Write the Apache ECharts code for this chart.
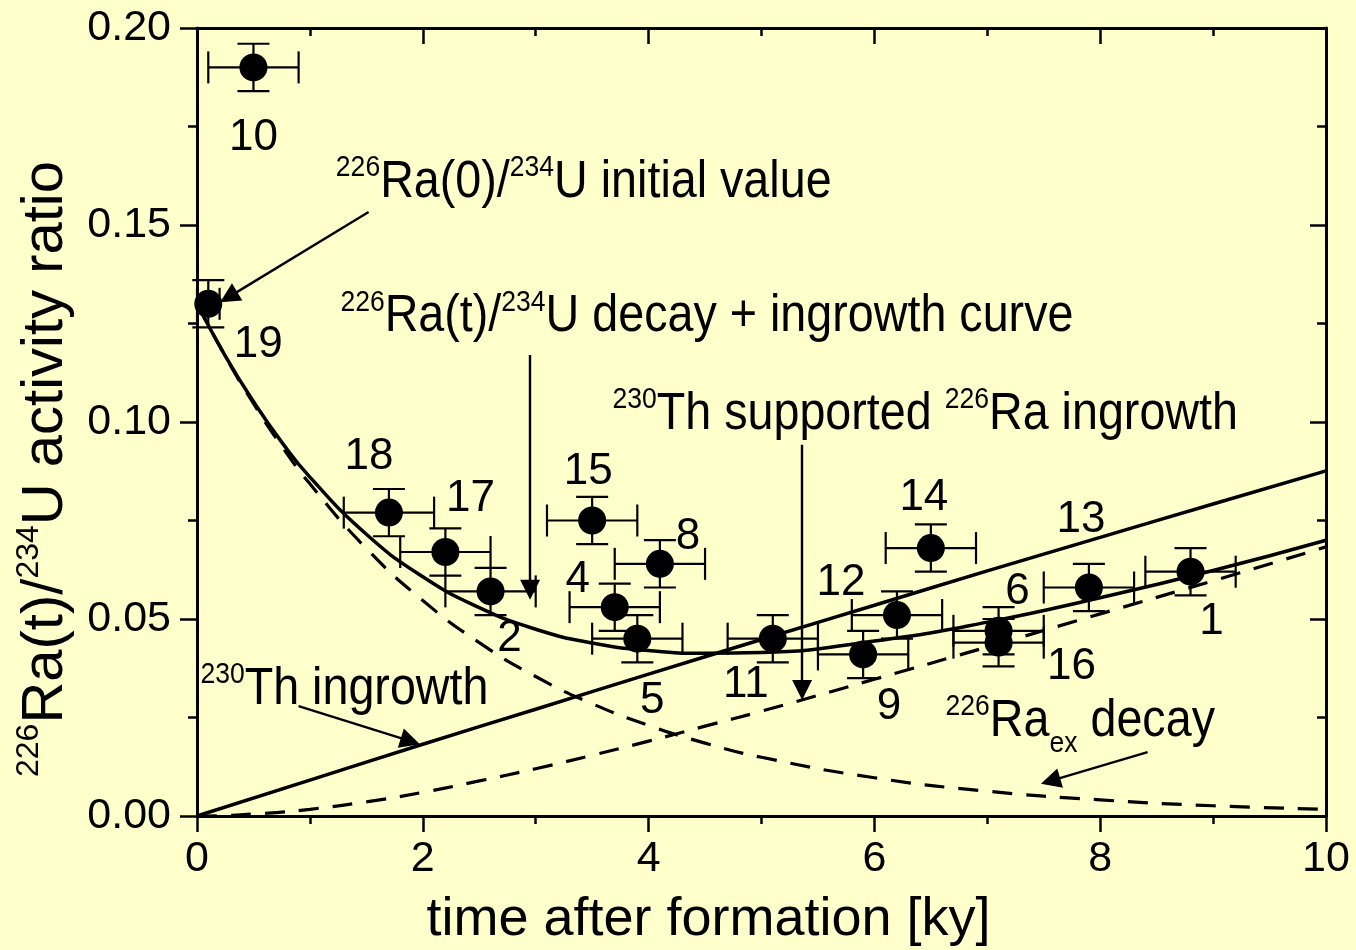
<!DOCTYPE html>
<html>
<head>
<meta charset="utf-8">
<script src="https://cdn.jsdelivr.net/npm/echarts@6/dist/echarts.min.js"></script>
<style>
  html, body { margin: 0; padding: 0; background: #ffffcc; }
  #chart { width: 1356px; height: 950px; }
</style>
</head>
<body>
<div id="chart"></div>
<script>
// ---- measured samples ----
const sampleIds   = ['10', '19', '18', '17', '2', '15', '8', '4', '5', '11', '9', '12', '14', '6', '16', '13', '1'];
const sampleAge   = [0.5, 0.1, 1.7, 2.2, 2.6, 3.5, 4.1, 3.7, 3.9, 5.1, 5.9, 6.2, 6.5, 7.1, 7.1, 7.9, 8.8];
const sampleRatio = [0.190, 0.130, 0.077, 0.067, 0.057, 0.075, 0.064, 0.053, 0.045, 0.045, 0.041, 0.051, 0.068, 0.047, 0.044, 0.058, 0.062];
const ageErr      = [0.4, 0.1, 0.4, 0.4, 0.4, 0.4, 0.4, 0.4, 0.4, 0.4, 0.4, 0.4, 0.4, 0.4, 0.4, 0.4, 0.4];
const ratioErr    = [0.006, 0.006, 0.006, 0.006, 0.006, 0.006, 0.006, 0.006, 0.006, 0.006, 0.006, 0.006, 0.006, 0.006, 0.006, 0.006, 0.006];

// ---- model curves ----
const curveTime    = [0, 0.25, 0.5, 0.75, 1, 1.5, 2, 2.5, 3, 3.5, 4, 4.5, 5, 6, 7, 8, 9, 10];
const totalRatio   = [0.130, 0.1168, 0.1052, 0.0949, 0.0860, 0.0715, 0.0607, 0.0529, 0.0474, 0.0439, 0.0420, 0.0413, 0.0415, 0.0444, 0.0492, 0.0554, 0.0623, 0.0700];
const excessDecay  = [0.130, 0.1167, 0.1047, 0.0939, 0.0843, 0.0679, 0.0547, 0.0440, 0.0354, 0.0285, 0.0230, 0.0185, 0.0149, 0.0097, 0.0063, 0.0041, 0.0026, 0.0017];
const supportedRa  = [0, 0.0001, 0.0005, 0.0010, 0.0017, 0.0036, 0.0060, 0.0089, 0.0120, 0.0154, 0.0190, 0.0228, 0.0266, 0.0347, 0.0429, 0.0513, 0.0597, 0.0683];
const thTime       = [0, 1, 2, 3, 4, 5, 6, 7, 8, 9, 10];
const thIngrowth   = [0, 0.0091, 0.0182, 0.0271, 0.0360, 0.0448, 0.0535, 0.0622, 0.0707, 0.0792, 0.0876];

// ---- axis ticks ----
const xTicks = [0, 2, 4, 6, 8, 10];
const yTicks = ['0.00', '0.05', '0.10', '0.15', '0.20'];

// label placement next to each point (px)
const labelShift = [[0, 70], [50, 41], [-20, -56], [25, -53], [19, 47], [-4, -49], [28, -27], [-37, -27], [15, 62],
                    [-27, 46], [26, 52], [-56, -32], [-7, -50], [19, -39], [73, 24], [-8, -68], [21, 50]];

// annotation texts, anchored in data coordinates (left edge, middle)
const notes = [
  { at: [1.23, 0.1607], text: '{sup|226}Ra(0)/{sup|234}U initial value' },
  { at: [1.27, 0.1266], text: '{sup|226}Ra(t)/{sup|234}U decay + ingrowth curve' },
  { at: [3.68, 0.1018], text: '{sup|230}Th supported {sup|226}Ra ingrowth' },
  { at: [0.03, 0.0320], text: '{sup|230}Th ingrowth' },
  { at: [6.63, 0.0239], text: '{sup|226}Ra{sub|ex} decay' }
];
// annotation arrows: [from, to] in data coordinates
const arrows = [
  [[1.52, 0.1533], [0.28, 0.1317]],
  [[2.95, 0.1170], [2.95, 0.0574]],
  [[5.36, 0.0942], [5.36, 0.0320]],
  [[0.90, 0.0279], [1.89, 0.0190]],
  [[8.42, 0.0162], [7.56, 0.0089]]
];

const FONT = "'Liberation Sans', Arial, Helvetica, sans-serif";
const INK = '#000000';

const zip = (xs, ys) => xs.map((x, i) => [x, ys[i]]);

const chart = echarts.init(document.getElementById('chart'), null, { renderer: 'canvas' });

const axisCommon = {
  axisLine: { show: true, onZero: false, lineStyle: { color: INK, width: 3 } },
  splitLine: { show: false },
  minorSplitLine: { show: false }
};

const option = {
  backgroundColor: '#ffffcc',
  animation: false,
  textStyle: { fontFamily: FONT, color: INK },
  grid: { left: 197, right: 30, top: 28, bottom: 134, containLabel: false, outerBoundsMode: 'none' },
  xAxis: [
    Object.assign({}, axisCommon, {
      type: 'value', position: 'bottom', min: 0, max: 10, interval: 2,
      axisTick: { show: true, inside: false, length: 16, lineStyle: { color: INK, width: 2.5 } },
      minorTick: { show: true, splitNumber: 2, length: 8, lineStyle: { color: INK, width: 2.5 } },
      axisLabel: { show: true, fontSize: 43, fontFamily: FONT, color: INK, margin: 22,
                   formatter: v => String(xTicks[xTicks.indexOf(v)]) },
      name: 'time after formation [ky]',
      nameLocation: 'middle', nameGap: 77,
      nameTextStyle: { fontSize: 54, fontFamily: FONT, color: INK, padding: [0, 106, 0, 0] }
    }),
    Object.assign({}, axisCommon, {
      type: 'value', position: 'top', min: 0, max: 10, interval: 2,
      axisTick: { show: true, inside: true, length: 16, lineStyle: { color: INK, width: 2.5 } },
      minorTick: { show: true, splitNumber: 2, length: 8, lineStyle: { color: INK, width: 2.5 } },
      axisLabel: { show: false }
    })
  ],
  yAxis: [
    Object.assign({}, axisCommon, {
      type: 'value', position: 'left', min: 0, max: 0.2, interval: 0.05,
      axisTick: { show: true, inside: false, length: 17, lineStyle: { color: INK, width: 2.5 } },
      minorTick: { show: true, splitNumber: 2, length: 9, lineStyle: { color: INK, width: 2.5 } },
      axisLabel: { show: true, fontSize: 43, fontFamily: FONT, color: INK, margin: 26,
                   formatter: v => yTicks[Math.round(v / 0.05)] },
      name: '{sup|226}Ra(t)/{sup|234}U activity ratio',
      nameLocation: 'middle', nameRotate: 90, nameGap: 122,
      nameTextStyle: {
        fontSize: 58, fontFamily: FONT, color: INK, padding: [0, 94, 0, 0],
        rich: { sup: { fontSize: 32, fontFamily: FONT, color: INK, verticalAlign: 'top', height: 24 } }
      }
    }),
    Object.assign({}, axisCommon, {
      type: 'value', position: 'right', min: 0, max: 0.2, interval: 0.05,
      axisTick: { show: true, inside: true, length: 16, lineStyle: { color: INK, width: 2.5 } },
      minorTick: { show: true, splitNumber: 2, length: 9, lineStyle: { color: INK, width: 2.5 } },
      axisLabel: { show: false }
    })
  ],
  series: [
    // 230Th ingrowth
    { type: 'line', xAxisIndex: 0, yAxisIndex: 0, data: zip(thTime, thIngrowth), smooth: true,
      showSymbol: false, lineStyle: { color: INK, width: 3.5 }, z: 3 },
    // 230Th supported 226Ra ingrowth
    { type: 'line', xAxisIndex: 0, yAxisIndex: 0, data: zip(curveTime, supportedRa), smooth: true,
      showSymbol: false, lineStyle: { color: INK, width: 3.2, type: [20, 14] }, z: 3 },
    // 226Ra excess decay
    { type: 'line', xAxisIndex: 0, yAxisIndex: 0, data: zip(curveTime, excessDecay), smooth: true,
      showSymbol: false, lineStyle: { color: INK, width: 3.2, type: [20, 14] }, z: 3 },
    // decay + ingrowth
    { type: 'line', xAxisIndex: 0, yAxisIndex: 0, data: zip(curveTime, totalRatio), smooth: true,
      showSymbol: false, lineStyle: { color: INK, width: 3.5 }, z: 3 },
    // error bars
    {
      type: 'custom', xAxisIndex: 0, yAxisIndex: 0, z: 4,
      data: sampleAge.map((t, i) => [t, sampleRatio[i], ageErr[i], ratioErr[i]]),
      renderItem: function (params, api) {
        const t = api.value(0), v = api.value(1), ex = api.value(2), ey = api.value(3);
        const l = api.coord([t - ex, v]), r = api.coord([t + ex, v]);
        const up = api.coord([t, v + ey]), dn = api.coord([t, v - ey]);
        const cap = 16;
        const st = { stroke: INK, lineWidth: 2.2, fill: null, opacity: 1 };
        const seg = (x1, y1, x2, y2) => ({ type: 'line', shape: { x1, y1, x2, y2 }, style: st });
        return {
          type: 'group',
          children: [
            seg(l[0], l[1], r[0], r[1]),
            seg(l[0], l[1] - cap, l[0], l[1] + cap),
            seg(r[0], r[1] - cap, r[0], r[1] + cap),
            seg(up[0], up[1], dn[0], dn[1]),
            seg(up[0] - cap, up[1], up[0] + cap, up[1]),
            seg(dn[0] - cap, dn[1], dn[0] + cap, dn[1])
          ]
        };
      }
    },
    // sample points with their numbers
    {
      type: 'scatter', xAxisIndex: 0, yAxisIndex: 0, z: 5,
      symbol: 'circle', symbolSize: 28,
      itemStyle: { color: INK, opacity: 1 },
      data: sampleAge.map((t, i) => ({
        value: [t, sampleRatio[i]],
        name: sampleIds[i],
        label: { offset: labelShift[i] }
      })),
      label: {
        show: true, position: 'inside', formatter: p => p.name,
        fontSize: 44, fontFamily: FONT, color: INK, opacity: 1
      }
    },
    // annotation arrows
    {
      type: 'lines', coordinateSystem: 'cartesian2d', xAxisIndex: 0, yAxisIndex: 0, z: 6,
      symbol: ['none', 'triangle'], symbolSize: [11, 20],
      lineStyle: { color: INK, width: 2.4, opacity: 1, curveness: 0 },
      itemStyle: { color: INK },
      data: arrows.map(a => ({ coords: a }))
    },
    // annotation texts
    {
      type: 'custom', xAxisIndex: 0, yAxisIndex: 0, z: 7,
      data: notes.map((n, i) => [n.at[0], n.at[1], i]),
      renderItem: function (params, api) {
        const p = api.coord([api.value(0), api.value(1)]);
        const note = notes[api.value(2)];
        return {
          type: 'text', x: p[0], y: p[1], scaleX: 0.915,
          style: {
            text: note.text, fill: INK, fontSize: 51, fontFamily: FONT,
            align: 'left', verticalAlign: 'middle',
            rich: {
              sup: { fontSize: 29, fontFamily: FONT, fill: INK, verticalAlign: 'top', height: 22 },
              sub: { fontSize: 29, fontFamily: FONT, fill: INK, verticalAlign: 'bottom', height: 6 }
            }
          }
        };
      }
    }
  ]
};

chart.setOption(option);
</script>
</body>
</html>
